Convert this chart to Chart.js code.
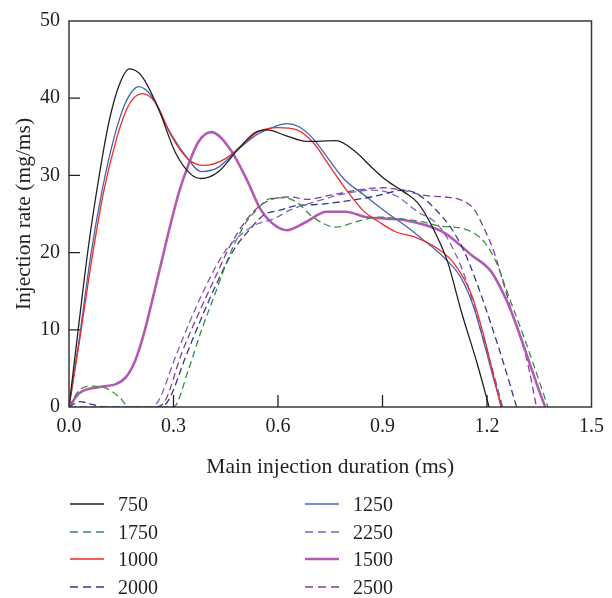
<!DOCTYPE html>
<html><head><meta charset="utf-8">
<script src="https://cdn.jsdelivr.net/npm/chart.js@4.4.1/dist/chart.umd.min.js"></script>
<style>
body{margin:0;background:#fff;}
#wrap{position:relative;width:612px;height:598px;}
#legend{position:absolute;left:0;top:0;width:612px;height:598px;pointer-events:none;font-family:"Liberation Serif",serif;font-size:20px;color:#231f20;}
.item{position:absolute;height:24px;line-height:24px;white-space:nowrap;}
.item svg{position:absolute;left:0;top:10px;}
.item span{position:absolute;left:48px;top:0;}
</style></head><body>
<div id="wrap"><canvas id="c" width="612" height="598"></canvas><div id="legend"></div></div>
<script>
// ---- data (x: ms, y: mg/ms) ----
const xTickLabels = ['0.0','0.3','0.6','0.9','1.2','1.5'];
const yTickLabels = ['0','10','20','30','40','50'];

const t750  = [0,0.025,0.055,0.085,0.115,0.145,0.173,0.21,0.258,0.305,0.351,0.38,0.427,0.484,0.532,0.569,0.62,0.682,0.767,0.824,0.87,0.91,0.96,1.0,1.04,1.087,1.126,1.172,1.206];
const r750  = [0,9.5,20.5,29.5,37,41.8,43.8,42.8,38.5,33,30.1,29.6,30.4,33.3,35.5,35.9,35.2,34.4,34.5,33,31,29.4,27.9,26.5,23.6,18.8,12.4,5.6,0];

const t1000 = [0,0.03,0.065,0.1,0.135,0.165,0.19,0.21,0.249,0.294,0.342,0.39,0.447,0.504,0.545,0.6,0.654,0.702,0.747,0.795,0.843,0.889,0.937,0.993,1.059,1.107,1.155,1.192,1.22,1.24];
const r1000 = [0,8.5,19,28,34.5,38.5,40.2,40.6,39.4,35.1,32.1,31.3,32.1,34.2,35.7,36.2,35.9,34.2,31.3,28.2,25.5,24,22.7,22,20.5,18.5,14.6,9,3.8,0];

const t1250 = [0,0.03,0.062,0.097,0.13,0.16,0.185,0.2,0.238,0.286,0.334,0.38,0.427,0.484,0.54,0.589,0.625,0.66,0.7,0.739,0.79,0.852,0.909,0.965,1.013,1.078,1.126,1.163,1.192,1.22,1.243];
const r1250 = [0,9,19.5,28.5,35,39.2,41.1,41.5,40.2,35.9,32.6,30.5,31,33.3,35.3,36.3,36.7,36.3,34.8,32.5,29.5,27.3,25.3,23.5,21.8,19.3,16.7,12.8,8.2,3.5,0];

const t1500 = [0,0.03,0.088,0.136,0.164,0.19,0.215,0.24,0.265,0.29,0.315,0.342,0.371,0.408,0.464,0.512,0.55,0.589,0.625,0.682,0.739,0.795,0.852,0.909,0.965,1.02,1.08,1.155,1.211,1.248,1.277,1.313,1.342,1.367];
const r1500 = [0,1.8,2.6,3,3.9,6,9.5,14,18.7,23.4,27.7,31.3,34.3,35.6,33.3,29.3,25.6,23.6,22.9,24,25.3,25.3,24.6,24.4,24.2,23.6,22.5,19.7,17.6,14.6,11.5,6.9,3.1,0];

const t1750 = [0,0.03,0.068,0.108,0.144,0.173,0.3,0.342,0.38,0.422,0.461,0.504,0.54,0.577,0.617,0.654,0.7,0.767,0.824,0.889,0.945,1.013,1.07,1.107,1.155,1.192,1.229,1.257,1.296,1.333,1.375];
const r1750 = [0,2.2,2.7,2.4,1.3,0,0,4.7,9.9,15,19.7,23.6,25.6,27,27.1,26.5,24.6,23.3,24,24.6,24.4,24,23.4,23.3,22.7,21.4,18.5,15,10.3,5.6,0];

const t2000 = [0,0.03,0.07,0.1,0.26,0.286,0.334,0.38,0.427,0.475,0.521,0.56,0.606,0.654,0.7,0.8,0.889,0.96,1.0,1.05,1.098,1.135,1.172,1.211,1.248,1.285];
const r2000 = [0,0.7,0.3,0,0,0.9,6.4,11.5,16.3,20.5,23.1,24.9,25.5,26.1,26.2,26.7,27.4,28.1,27.6,25.7,23.1,20.1,15.9,10.8,5.6,0];

const t2250 = [0,0.235,0.258,0.305,0.351,0.4,0.447,0.493,0.54,0.589,0.634,0.7,0.8,0.87,0.937,1.0,1.059,1.107,1.144,1.172,1.211,1.245];
const r2250 = [0,0,0.9,6.4,11.5,16.3,20.1,22.3,23.7,24.4,25.5,26.5,27.7,28.1,27.4,25.3,23.6,20.1,15.9,11.5,5.6,0];

const t2500 = [0,0.25,0.277,0.323,0.371,0.419,0.464,0.512,0.549,0.589,0.634,0.682,0.748,0.843,0.9,0.956,1.02,1.08,1.126,1.163,1.192,1.22,1.248,1.277,1.313,1.342];
const r2500 = [0,0,0.9,6.9,12,16.7,21,24.4,26.1,27,27.2,26.9,27.4,28.2,28.4,28.1,27.4,27.2,26.8,25.6,23.1,20.1,15.9,11.5,6.4,0];

// ---- series table ----
const series = [
  {label:'750',  t:t750,  r:r750,  color:'#231f20', dash:[],    width:1.3},
  {label:'1750', t:t1750, r:r1750, color:'#3a8f44', dash:[7,4], width:1.3},
  {label:'1000', t:t1000, r:r1000, color:'#ee2a2a', dash:[],    width:1.3},
  {label:'2000', t:t2000, r:r2000, color:'#34388a', dash:[7,4], width:1.3},
  {label:'1250', t:t1250, r:r1250, color:'#4464b0', dash:[],    width:1.3},
  {label:'2250', t:t2250, r:r2250, color:'#7b63b8', dash:[7,4], width:1.3},
  {label:'1500', t:t1500, r:r1500, color:'#b35bb4', dash:[],    width:2.6},
  {label:'2500', t:t2500, r:r2500, color:'#8a3d96', dash:[7,4], width:1.3}
];

const datasets = series.map(s => ({
  label: s.label,
  data: s.t.map((x,i)=>({x:x, y:s.r[i]})),
  borderColor: s.color,
  borderWidth: s.width,
  borderDash: s.dash,
  pointRadius: 0,
  showLine: true,
  fill: false,
  cubicInterpolationMode: 'monotone'
}));

const serif = '"Liberation Serif", "Times New Roman", serif';
const ink = '#231f20';

const framePlugin = {
  id: 'frame',
  afterDatasetsDraw(chart) {
    const {ctx, chartArea: a, scales: {x, y}} = chart;
    ctx.save();
    ctx.strokeStyle = '#3a3a3a';
    ctx.lineWidth = 1.5;
    ctx.strokeRect(a.left, a.top, a.right - a.left, a.bottom - a.top);
    ctx.lineWidth = 1.3;
    ctx.strokeStyle = ink;
    ctx.beginPath();
    y.ticks.forEach(t => {
      if (t.value > y.min && t.value < y.max) {
        const py = y.getPixelForValue(t.value);
        ctx.moveTo(a.left, py); ctx.lineTo(a.left + 11, py);
      }
    });
    x.ticks.forEach(t => {
      if (t.value > x.min + 1e-9 && t.value < x.max - 1e-9) {
        const px = x.getPixelForValue(t.value);
        ctx.moveTo(px, a.bottom); ctx.lineTo(px, a.bottom - 12);
      }
    });
    ctx.stroke();
    ctx.restore();
  }
};

new Chart(document.getElementById('c'), {
  type: 'scatter',
  data: {datasets},
  plugins: [framePlugin],
  options: {
    responsive: false,
    animation: false,
    layout: {padding: {left: 0, top: 17, right: 13, bottom: 108}},
    plugins: {legend: {display: false}, tooltip: {enabled: false}},
    scales: {
      x: {
        type: 'linear', min: 0, max: 1.5,
        afterFit(s){ s.height = 83; },
        afterBuildTicks(s){ s.ticks = xTickLabels.map(v => ({value: parseFloat(v)})); },
        grid: {display: false, drawTicks: false},
        border: {display: false},
        ticks: {
          padding: 8, color: ink, font: {family: serif, size: 20},
          maxRotation: 0, autoSkip: false,
          callback: (v, i) => xTickLabels[i]
        },
        title: {display: true, text: 'Main injection duration (ms)', color: ink,
                font: {family: serif, size: 21.5}, padding: {top: 0, bottom: 10}}
      },
      y: {
        type: 'linear', min: 0, max: 50,
        afterFit(s){ s.width = 69; },
        afterBuildTicks(s){ s.ticks = yTickLabels.map(v => ({value: parseFloat(v)})); },
        grid: {display: false, drawTicks: false},
        border: {display: false},
        ticks: {
          padding: 9, color: ink, font: {family: serif, size: 20}, autoSkip: false,
          callback: (v, i) => yTickLabels[i]
        },
        title: {display: true, text: 'Injection rate (mg/ms)', color: ink,
                font: {family: serif, size: 21.5}, padding: {top: 11, bottom: 0}}
      }
    }
  }
});

// ---- HTML legend (two columns, as in the figure) ----
const legend = document.getElementById('legend');
const cols = [70, 305];
const rows = [504, 532, 559, 587];
series.forEach((s, i) => {
  const col = i < 4 ? 0 : 1;
  const row = i % 4;
  const div = document.createElement('div');
  div.className = 'item';
  div.style.left = cols[col] + 'px';
  div.style.top = (rows[row] - 12) + 'px';
  const dash = s.dash.length ? 'stroke-dasharray="8,5"' : '';
  div.innerHTML = '<svg width="36" height="4"><line x1="0" y1="2" x2="34" y2="2" stroke="' + s.color +
    '" stroke-width="' + (s.width > 2 ? 2.6 : 1.5) + '" ' + dash + '/></svg><span>' + s.label + '</span>';
  legend.appendChild(div);
});
</script>
</body></html>
